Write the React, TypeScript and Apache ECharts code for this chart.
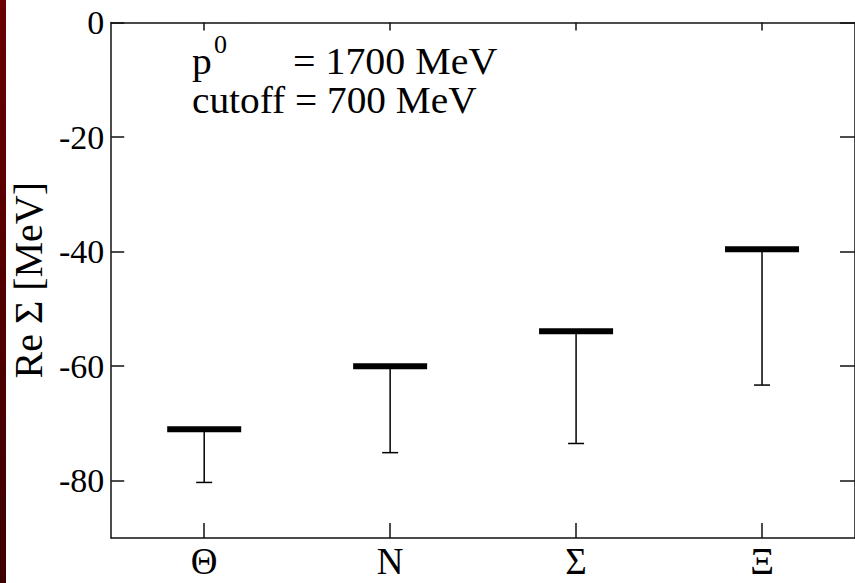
import React, { useEffect, useRef } from "react";
import * as echarts from "echarts";

const categories = ["Θ", "N", "Σ", "Ξ"];
const centralValues = [-71, -60, -53.9, -39.6];
const lowerValues = [-80.3, -75.1, -73.5, -63.3];
const yTickValues = [0, -20, -40, -60, -80];

const FONT = "'Liberation Serif', 'DejaVu Serif', serif";

export default function App() {
  const ref = useRef<HTMLDivElement>(null);

  useEffect(() => {
    document.body.style.margin = "0";
    const chart = echarts.init(ref.current!, null, { renderer: "svg" });
    const data = categories.map((_, i) => [i, centralValues[i], lowerValues[i]]);

    chart.setOption({
      animation: false,
      backgroundColor: "#ffffff",
      grid: { left: 110, top: 22.5, right: -7, bottom: 45 },
      xAxis: [
        {
          type: "category",
          data: categories,
          position: "bottom",
          boundaryGap: true,
          axisLine: { onZero: false, lineStyle: { color: "#111", width: 1.5 } },
          axisTick: { show: true, inside: true, length: 15, alignWithLabel: true, lineStyle: { color: "#111", width: 1.5 } },
          axisLabel: { color: "#000", fontFamily: FONT, fontSize: 37, margin: 5 },
          splitLine: { show: false },
        },
        {
          type: "category",
          data: categories,
          position: "top",
          boundaryGap: true,
          axisLine: { onZero: false, lineStyle: { color: "#111", width: 1.5 } },
          axisTick: { show: true, inside: true, length: 8, alignWithLabel: true, lineStyle: { color: "#111", width: 1.5 } },
          axisLabel: { show: false },
          splitLine: { show: false },
        },
      ],
      yAxis: [
        {
          type: "value",
          position: "left",
          min: -90,
          max: 0,
          name: "Re Σ [MeV]",
          nameLocation: "middle",
          nameRotate: 90,
          nameGap: 62,
          nameTextStyle: { color: "#000", fontFamily: FONT, fontSize: 40 },
          axisLine: { show: true, onZero: false, lineStyle: { color: "#111", width: 1.5 } },
          axisTick: { show: true, inside: true, length: 13, customValues: yTickValues, lineStyle: { color: "#111", width: 1.5 } },
          axisLabel: { color: "#000", fontFamily: FONT, fontSize: 34, margin: 7, customValues: yTickValues },
          splitLine: { show: false },
        },
        {
          type: "value",
          position: "right",
          min: -90,
          max: 0,
          axisLine: { show: true, onZero: false, lineStyle: { color: "#111", width: 1.5 } },
          axisTick: { show: true, inside: true, length: 15, customValues: yTickValues, lineStyle: { color: "#111", width: 1.5 } },
          axisLabel: { show: false },
          splitLine: { show: false },
        },
      ],
      series: [
        {
          type: "custom",
          xAxisIndex: 0,
          yAxisIndex: 0,
          data,
          renderItem: (params: any, api: any) => {
            const idx = api.value(0);
            const p = api.coord([idx, api.value(1)]);
            const q = api.coord([idx, api.value(2)]);
            const stroke = { stroke: "#000", lineWidth: 1.5 };
            return {
              type: "group",
              children: [
                { type: "line", shape: { x1: p[0], y1: p[1], x2: q[0], y2: q[1] }, style: stroke },
                { type: "line", shape: { x1: q[0] - 8, y1: q[1], x2: q[0] + 8, y2: q[1] }, style: stroke },
                { type: "rect", shape: { x: p[0] - 37, y: p[1] - 3, width: 74, height: 6 }, style: { fill: "#000" } },
              ],
            };
          },
        },
      ],
      graphic: [
        {
          type: "rect",
          left: 0,
          top: 0,
          shape: { x: 0, y: 0, width: 6, height: 583 },
          style: {
            fill: new echarts.graphic.LinearGradient(0, 0, 0, 1, [
              { offset: 0, color: "#6a0000" },
              { offset: 1, color: "#3d0000" },
            ]),
          },
          silent: true,
        },
        {
          type: "text",
          x: 192,
          y: 61,
          scaleX: 1.04,
          style: { text: "p", font: `38px ${FONT}`, fill: "#000", textVerticalAlign: "middle" },
        },
        {
          type: "text",
          x: 214,
          y: 44,
          style: { text: "0", font: `26px ${FONT}`, fill: "#000", textVerticalAlign: "middle" },
        },
        {
          type: "text",
          x: 293,
          y: 61,
          scaleX: 1.05,
          style: { text: "= 1700 MeV", font: `38px ${FONT}`, fill: "#000", textVerticalAlign: "middle" },
        },
        {
          type: "text",
          x: 192,
          y: 100,
          scaleX: 1.035,
          style: { text: "cutoff = 700 MeV", font: `38px ${FONT}`, fill: "#000", textVerticalAlign: "middle" },
        },
      ],
    });
    return () => chart.dispose();
  }, []);

  return <div ref={ref} style={{ position: "fixed", left: 0, top: 0, width: 855, height: 583 }} />;
}
